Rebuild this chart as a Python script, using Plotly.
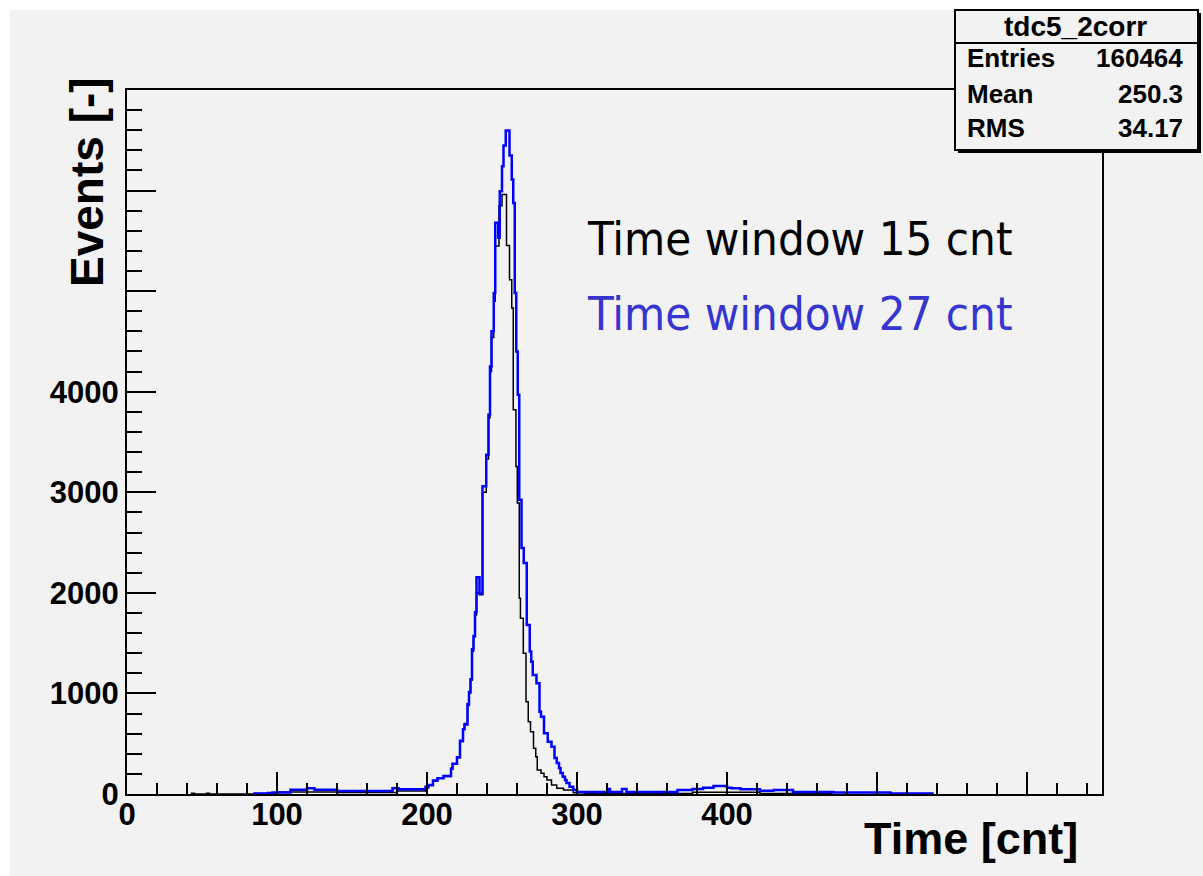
import plotly.graph_objects as go

# ---------------- data ----------------
# Histogram "Time window 27 cnt" (blue): bin edges [cnt] and counts
blue_edges = [85, 94, 97, 109, 120, 125, 140, 177, 181, 199,
              201, 204, 207, 211, 216, 217, 220, 222, 224, 225,
              227, 228, 229, 230, 231, 232, 233, 235, 237, 239.5,
              241, 242, 243, 244.5, 245.5, 247.5, 248.5, 250, 251, 252.5,
              255, 256.5, 257.5, 258.5, 259.5, 260.5, 261.5, 263, 264.5, 266.5,
              268.5, 269.5, 270.5, 273, 275, 276, 278, 280.5, 283, 285,
              286.5, 288, 289, 290.5, 292, 293, 295, 297.5, 300, 321,
              322, 330, 333, 367, 377, 384, 391, 400, 403, 409,
              422, 431, 444, 471, 509, 537]
blue_counts = [5, 10, 15, 43, 57, 43, 30, 57, 47, 73,
               90, 135, 157, 178, 250, 300, 365, 530, 645, 690,
               894, 1013, 1142, 1440, 1572, 1807, 2155, 1990, 3060, 3373,
               3771, 4250, 4600, 4982, 5679, 5530, 5993, 6242, 6448, 6597,
               6348, 6109, 5877, 4982, 4401, 3970, 2925, 2445, 2297, 1681,
               1416, 1316, 1184, 1101, 819, 769, 604, 520, 471, 358,
               308, 259, 209, 172, 139, 109, 73, 40, 20, 50,
               20, 50, 20, 40, 50, 63, 80, 63, 57, 47,
               33, 40, 20, 15, 5]

# Histogram "Time window 15 cnt" (black): bin edges [cnt] and counts
black_edges = [43, 45, 53, 55, 85, 100, 140, 180, 199, 201,
               204, 207, 211, 216, 217, 220, 222, 224, 225, 227,
               228, 229, 230, 231, 232, 233, 235, 237, 239.5, 241,
               242, 243, 244.5, 245.5, 248, 250, 253, 255, 256.5, 257.5,
               259.3, 260.2, 261.5, 262.3, 264.2, 266, 267.5, 269, 271, 272.5,
               273.5, 276, 278, 280, 283, 286.5, 291, 297.5, 305, 377,
               422, 470]
black_counts = [8, 0, 8, 0, 5, 20, 15, 30, 60, 85,
                130, 160, 175, 255, 300, 360, 520, 650, 700, 880,
                1000, 1130, 1420, 1560, 1780, 2000, 1980, 3000, 3330, 3740,
                4200, 4540, 4900, 5450, 5850, 5960, 5453, 5114, 4833, 3821,
                3257, 2893, 1947, 1748, 1400, 918, 719, 620, 455, 371,
                239, 206, 172, 139, 90, 57, 40, 13, 5, 18,
                5]

x_tick_vals = [0, 100, 200, 300, 400, 500, 600]
x_tick_text = ["0", "100", "200", "300", "400", "", ""]
y_tick_vals = [0, 1000, 2000, 3000, 4000, 5000, 6000, 7000]
y_tick_text = ["0", "1000", "2000", "3000", "4000", "", "", ""]

stats_title = "tdc5_2corr"
stats_names = ["Entries", "Mean", "RMS"]
stats_values = ["160464", "250.3", "34.17"]

label_black = "Time window 15 cnt"
label_blue = "Time window 27 cnt"
x_title = "Time [cnt]"
y_title = "Events [-]"

# ---------------- layout geometry (pixels) ----------------
W, H = 1203, 876
ML, MR, MT, MB = 127, 101, 90, 82
PW, PH = W - ML - MR, H - MT - MB
BG = "#f2f2f2"


def fx(px):
    return (px - ML) / PW


def fy(py):
    return (H - MB - py) / PH


def steps(edges, counts):
    xs, ys = [edges[0]], [0]
    for i, c in enumerate(counts):
        xs += [edges[i], edges[i + 1]]
        ys += [c, c]
    xs.append(edges[-1])
    ys.append(0)
    return xs, ys


fig = go.Figure()
bx, by = steps(black_edges, black_counts)
fig.add_trace(go.Scatter(x=bx, y=by, mode="lines",
                         line=dict(color="black", width=1.5),
                         hoverinfo="skip", showlegend=False))
ux, uy = steps(blue_edges, blue_counts)
fig.add_trace(go.Scatter(x=ux, y=uy, mode="lines",
                         line=dict(color="#0000ff", width=2.5),
                         hoverinfo="skip", showlegend=False))

tick_font = dict(family="Liberation Sans, Arial, sans-serif", size=31,
                 color="black", weight="bold")

fig.update_layout(
    width=W, height=H,
    margin=dict(l=ML, r=MR, t=MT, b=MB, pad=0),
    paper_bgcolor="white", plot_bgcolor=BG,
    showlegend=False,
    xaxis=dict(range=[0, 650], tickmode="array", tickvals=x_tick_vals,
               ticktext=x_tick_text, ticks="inside", ticklen=22,
               tickwidth=1.5, tickcolor="black", showline=True,
               linecolor="black", linewidth=2, mirror=True,
               showgrid=False, zeroline=False, tickfont=tick_font,
               ticklabelstandoff=-8,
               minor=dict(tickmode="linear", tick0=0, dtick=20,
                          ticks="inside", ticklen=11, tickwidth=1.5,
                          tickcolor="black", showgrid=False)),
    yaxis=dict(range=[0, 7000], tickmode="array", tickvals=y_tick_vals,
               ticktext=y_tick_text, ticks="inside", ticklen=29,
               tickwidth=1.5, tickcolor="black", showline=True,
               linecolor="black", linewidth=2, mirror=True,
               showgrid=False, zeroline=False, tickfont=tick_font,
               minor=dict(tickmode="linear", tick0=0, dtick=200,
                          ticks="inside", ticklen=15, tickwidth=1.5,
                          tickcolor="black", showgrid=False)),
)

shapes = [
    # grey canvas (white strip at top and left like the reference)
    dict(type="rect", xref="paper", yref="paper", layer="below",
         x0=fx(10), x1=fx(W + 5), y0=fy(10), y1=fy(H + 5),
         fillcolor=BG, line=dict(width=0)),
    # stats box shadow
    dict(type="rect", xref="paper", yref="paper", layer="above",
         x0=fx(958), x1=fx(1201), y0=fy(13), y1=fy(153),
         fillcolor="black", line=dict(width=0)),
    # stats box
    dict(type="rect", xref="paper", yref="paper", layer="above",
         x0=fx(955), x1=fx(1198), y0=fy(10), y1=fy(150),
         fillcolor=BG, line=dict(color="black", width=2)),
    dict(type="line", xref="paper", yref="paper", layer="above",
         x0=fx(955), x1=fx(1198), y0=fy(43), y1=fy(43),
         line=dict(color="black", width=2)),
]

bold = dict(family="Liberation Sans, Arial, sans-serif", color="black",
            weight="bold")
ann = []
ann.append(dict(text=stats_title, x=fx(1075), y=fy(27), xref="paper",
                yref="paper", showarrow=False, xanchor="center",
                yanchor="middle", font=dict(size=28, **bold)))
row_y = [58, 94, 128]
for name, val, ry in zip(stats_names, stats_values, row_y):
    ann.append(dict(text=name, x=fx(965), y=fy(ry), xref="paper",
                    yref="paper", showarrow=False, xanchor="left",
                    yanchor="middle", font=dict(size=26, **bold)))
    ann.append(dict(text=val, x=fx(1185), y=fy(ry), xref="paper",
                    yref="paper", showarrow=False, xanchor="right",
                    yanchor="middle", font=dict(size=26, **bold)))

ann.append(dict(text=y_title, x=fx(87), y=fy(182), xref="paper",
                yref="paper", showarrow=False, textangle=-90,
                xanchor="center", yanchor="middle",
                font=dict(size=46, **bold)))
ann.append(dict(text=x_title, x=fx(971), y=fy(838), xref="paper",
                yref="paper", showarrow=False, xanchor="center",
                yanchor="middle", font=dict(size=45, **bold)))

win_font = "DejaVu Sans Condensed, DejaVu Sans, sans-serif"
ann.append(dict(text=label_black, x=fx(585), y=fy(238), xref="paper",
                yref="paper", showarrow=False, xanchor="left",
                yanchor="middle",
                font=dict(family=win_font, size=47, color="black")))
ann.append(dict(text=label_blue, x=fx(585), y=fy(313), xref="paper",
                yref="paper", showarrow=False, xanchor="left",
                yanchor="middle",
                font=dict(family=win_font, size=47, color="#3535d0")))

fig.update_layout(shapes=shapes, annotations=ann)
fig.write_html("out.html")
